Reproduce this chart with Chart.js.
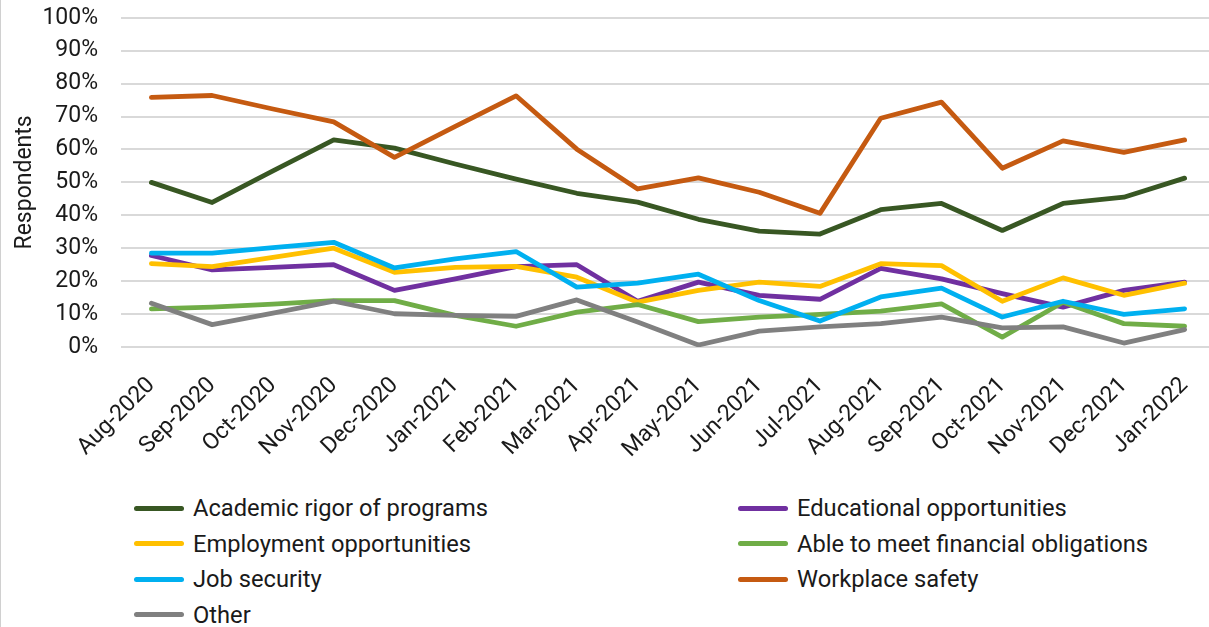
<!DOCTYPE html>
<html>
<head>
<meta charset="utf-8">
<script src="https://cdn.jsdelivr.net/npm/chart.js@4/dist/chart.umd.min.js"></script>
<style>
  html, body { margin: 0; padding: 0; background: #fff; overflow: hidden; }
  #wrap { position: relative; width: 1209px; height: 627px; overflow: hidden; border-left: 1px solid #d0d0d0; box-sizing: border-box; }
  /* canvas pulled up a little so the plot top lands where the original has it */
  #chart { position: absolute; left: 0; top: -19px; }
  #legend { position: absolute; left: 0; top: 0; font-family: Roboto, sans-serif; color: #1a1a1a; }
  .item { position: absolute; height: 36px; display: flex; align-items: center; white-space: nowrap; }
  .swatch { width: 50px; height: 5px; border-radius: 3px; margin-right: 9px; }
  .label { font-size: 23.7px; }
</style>
</head>
<body>
<div id="wrap">
  <canvas id="chart" width="1214" height="490"></canvas>
  <div id="legend"></div>
</div>
<script>
const months = ["Aug-2020", "Sep-2020", "Oct-2020", "Nov-2020", "Dec-2020", "Jan-2021", "Feb-2021", "Mar-2021", "Apr-2021",
  "May-2021", "Jun-2021", "Jul-2021", "Aug-2021", "Sep-2021", "Oct-2021", "Nov-2021", "Dec-2021", "Jan-2022"];

const academicRigor = [50.0, 43.9, 53.5, 62.9, 60.4, 55.6, 51.0, 46.7, 44.0, 38.8, 35.2, 34.3, 41.7, 43.6, 35.4, 43.6, 45.5, 51.3];
const educational   = [27.8, 23.4, 24.2, 25.0, 17.2, 20.7, 24.4, 25.0, 13.9, 19.7, 15.7, 14.5, 23.9, 20.7, 16.2, 12.1, 17.2, 19.7];
const employment    = [25.3, 24.4, 27.2, 30.0, 22.7, 24.2, 24.5, 21.2, 13.6, 17.2, 19.7, 18.4, 25.3, 24.7, 13.9, 21.0, 15.7, 19.4];
const financial     = [11.6, 12.1, 13.0, 14.1, 14.1, 9.6, 6.3, 10.6, 12.9, 7.7, 9.1, 9.9, 10.9, 13.1, 3.0, 13.6, 7.1, 6.3];
const jobSecurity   = [28.5, 28.5, 30.2, 31.8, 24.0, 26.8, 29.0, 18.2, 19.4, 22.1, 14.1, 7.9, 15.2, 17.9, 9.1, 13.9, 9.9, 11.6];
const workplace     = [75.8, 76.4, 72.3, 68.4, 57.6, 67.0, 76.3, 60.1, 48.0, 51.4, 47.0, 40.6, 69.5, 74.4, 54.3, 62.6, 59.1, 62.9];
const other         = [13.3, 6.8, 10.3, 13.9, 10.1, 9.6, 9.3, 14.3, 7.6, 0.6, 4.8, 6.1, 7.1, 9.1, 5.8, 6.1, 1.2, 5.3];

const yTicks = [0, 10, 20, 30, 40, 50, 60, 70, 80, 90, 100];

const series = [
  ["Academic rigor of programs", academicRigor, "#385723"],
  ["Educational opportunities", educational, "#7030A0"],
  ["Employment opportunities", employment, "#FFC000"],
  ["Able to meet financial obligations", financial, "#70AD47"],
  ["Job security", jobSecurity, "#00B0F0"],
  ["Workplace safety", workplace, "#C55A11"],
  ["Other", other, "#808080"]
];

const font = { family: "Roboto, sans-serif", size: 23 };

const chart = new Chart(document.getElementById("chart"), {
  type: "line",
  data: {
    labels: months,
    datasets: series.map((s, i) => ({
      label: s[0],
      data: s[1],
      borderColor: s[2],
      backgroundColor: s[2],
      borderWidth: 4.8,
      borderCapStyle: "round",
      borderJoinStyle: "round",
      pointRadius: 0,
      tension: 0,
      order: series.length - i
    }))
  },
  options: {
    responsive: false,
    animation: false,
    layout: { padding: 0 },
    plugins: { legend: { display: false }, tooltip: { enabled: false } },
    scales: {
      x: {
        offset: true,
        grid: { display: false, drawTicks: false },
        border: { display: false },
        ticks: { color: "#1a1a1a", font: font, minRotation: 45, maxRotation: 45, padding: 25, labelOffset: 0, autoSkip: false },
        afterFit: (scale) => {
          scale.height = 124;
          // plot runs right up to the edge, as in the original
          scale.paddingLeft = 0;
          scale.paddingRight = 0;
        }
      },
      y: {
        min: 0,
        max: 100,
        afterBuildTicks: (scale) => { scale.ticks = yTicks.map(v => ({ value: v })); },
        grid: { color: "#d9d9d9", lineWidth: 2, drawTicks: false },
        border: { display: false },
        ticks: { color: "#1a1a1a", font: font, padding: 23, callback: (v) => v + "%" },
        title: { display: true, text: "Respondents", color: "#1a1a1a", font: font, padding: { top: 10, bottom: 0 } },
        afterFit: (scale) => { scale.width = 120; }
      }
    }
  }
});

// legend in two columns, like the original
const legend = document.getElementById("legend");
chart.data.datasets.forEach((ds, i) => {
  const item = document.createElement("div");
  item.className = "item";
  item.style.left = (i % 2 === 0 ? 133 : 737) + "px";
  item.style.top = (490 + Math.floor(i / 2) * 35.5) + "px";
  item.innerHTML = '<span class="swatch" style="background:' + ds.borderColor + '"></span><span class="label">' + ds.label + '</span>';
  legend.appendChild(item);
});
</script>
</body>
</html>
